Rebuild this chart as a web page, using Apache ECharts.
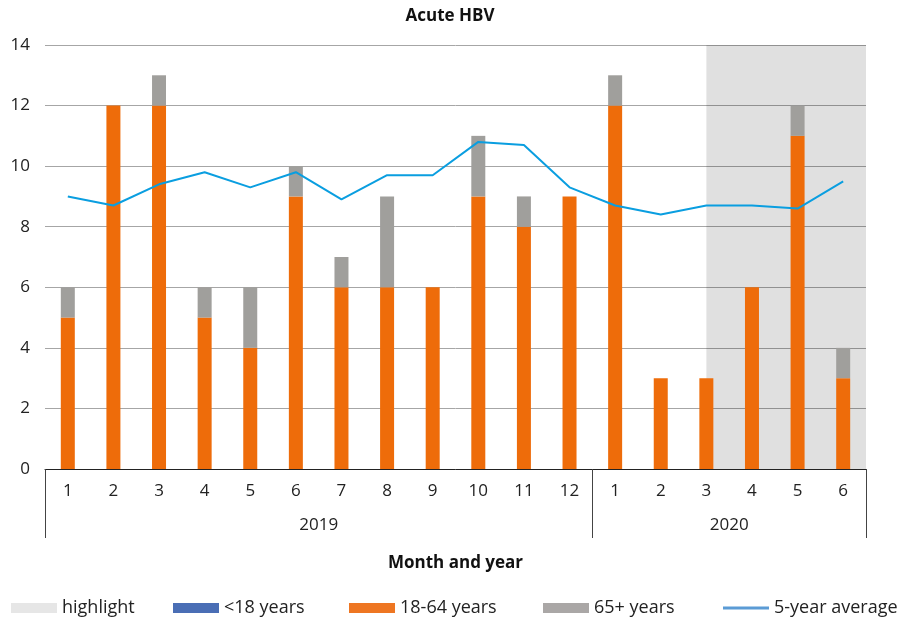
<!DOCTYPE html>
<html>
<head>
<meta charset="utf-8">
<script src="https://cdn.jsdelivr.net/npm/echarts@6/dist/echarts.min.js"></script>
<style>
  html, body { margin: 0; padding: 0; background: #fff; }
  #main { width: 900px; height: 623px; }
</style>
</head>
<body>
<div id="main"></div>
<script>
// months on the x axis (2019: 1-12, 2020: 1-6)
var months = ['1','2','3','4','5','6','7','8','9','10','11','12','1','2','3','4','5','6'];
var yearLabels = ['2019', '2020'];
var yearCenters = [6, 15];
var yearBounds = [0, 12, 18];

var under18 = [0,0,0,0,0,0,0,0,0,0,0,0, 0,0,0,0,0,0];
var age18to64 = [5,12,12,5,4,9,6,6,6,9,8,9, 12,3,3,6,11,3];
var age65plus = [1,0,1,1,2,1,1,3,0,2,1,0, 1,0,0,0,1,1];
var fiveYearAvg = [9.0,8.7,9.4,9.8,9.3,9.8,8.9,9.7,9.7,10.8,10.7,9.3, 8.7,8.4,8.7,8.7,8.6,9.5];

// shaded period (on the 0-18 month scale)
var highlightX = [14.5, 18];
var highlightTop = 14;

var chart = echarts.init(document.getElementById('main'));
var font = 'Open Sans';

// one legend per entry so the spacing follows the original
function legendAt(left, item) {
  return {
    left: left,
    bottom: 1,
    itemWidth: 46,
    itemHeight: 10,
    itemGap: 0,
    textStyle: { fontSize: 18, color: '#222', fontFamily: font },
    data: [item]
  };
}

var option = {
  animation: false,
  textStyle: { fontFamily: font },
  title: {
    text: 'Acute HBV',
    left: 'center',
    top: 3,
    textStyle: { fontSize: 17, fontWeight: 'bold', color: '#111', fontFamily: font }
  },
  legend: [
    legendAt(6, { name: 'highlight', icon: 'rect', itemStyle: { color: '#e6e6e6' } }),
    legendAt(168, { name: '<18 years', icon: 'rect', itemStyle: { color: '#4a6eb5' } }),
    legendAt(344, { name: '18-64 years', icon: 'rect', itemStyle: { color: '#ee7622' } }),
    legendAt(538, { name: '65+ years', icon: 'rect', itemStyle: { color: '#aaa7a6' } }),
    legendAt(718, { name: '5-year average', icon: 'path://M0,3.5 L46,3.5 L46,6.5 L0,6.5 Z', itemStyle: { color: '#5b9bd5' } })
  ],
  grid: { left: 45, right: 34, top: 45, bottom: 154 },
  xAxis: [
    {
      type: 'category',
      data: months,
      axisLine: { lineStyle: { color: '#222', width: 1 } },
      axisTick: { show: false },
      axisLabel: { fontSize: 17, color: '#222', margin: 14 },
      name: 'Month and year',
      nameLocation: 'middle',
      nameGap: 86,
      nameTextStyle: { fontSize: 17, fontWeight: 'bold', color: '#111' }
    },
    {
      type: 'value',
      position: 'bottom',
      min: 0,
      max: 18,
      axisLine: { show: false },
      splitLine: { show: false },
      axisTick: {
        show: true,
        customValues: yearBounds,
        length: 69,
        lineStyle: { color: '#444' }
      },
      axisLabel: {
        customValues: yearCenters,
        fontSize: 17,
        color: '#222',
        margin: 48,
        formatter: function (v) { return yearLabels[yearCenters.indexOf(v)]; }
      }
    }
  ],
  yAxis: {
    type: 'value',
    min: 0,
    max: 14,
    interval: 2,
    axisLine: { show: false },
    axisTick: { show: false },
    axisLabel: { fontSize: 17, color: '#222', margin: 15 },
    splitLine: { lineStyle: { color: '#a6a6a6', width: 1 } }
  },
  series: [
    {
      name: 'highlight',
      type: 'line',
      xAxisIndex: 1,
      data: [[highlightX[0], highlightTop], [highlightX[1], highlightTop]],
      symbol: 'none',
      lineStyle: { width: 0 },
      areaStyle: { color: 'rgba(0,0,0,0.12)', opacity: 1 },
      itemStyle: { color: '#e6e6e6' },
      z: 0,
      silent: true
    },
    {
      name: '<18 years',
      type: 'bar',
      stack: 'age',
      data: under18,
      barWidth: 14,
      itemStyle: { color: '#4a6eb5' }
    },
    {
      name: '18-64 years',
      type: 'bar',
      stack: 'age',
      data: age18to64,
      barWidth: 14,
      itemStyle: { color: '#ee6c0a' }
    },
    {
      name: '65+ years',
      type: 'bar',
      stack: 'age',
      data: age65plus,
      barWidth: 14,
      itemStyle: { color: '#a09f9c' }
    },
    {
      name: '5-year average',
      type: 'line',
      data: fiveYearAvg,
      symbol: 'none',
      lineStyle: { color: '#0a9ee0', width: 2 },
      itemStyle: { color: '#0a9ee0' },
      z: 5
    }
  ]
};

chart.setOption(option);
window.addEventListener('resize', function () {
  chart.resize();
});
</script>
</body>
</html>
